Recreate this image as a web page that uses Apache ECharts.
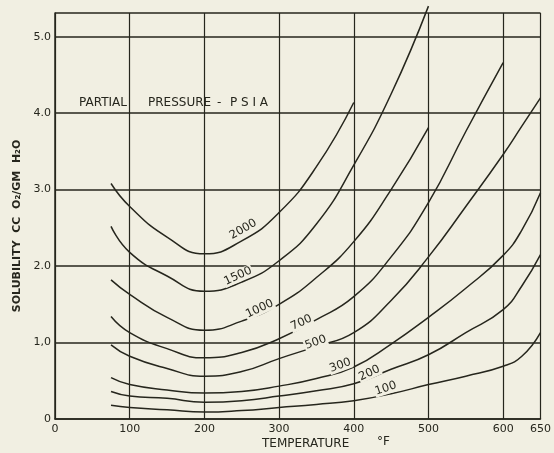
<!DOCTYPE html>
<html><head><meta charset="utf-8">
<script src="https://cdn.jsdelivr.net/npm/echarts@6/dist/echarts.min.js"></script>
<style>html,body{margin:0;padding:0;background:#f1efe2;}#c{width:554px;height:453px;}</style>
</head><body><div id="c"></div>
<script>
// Temperature (°F) sample points
const temps = [75, 100, 150, 200, 250, 300, 350, 400, 450, 500, 550, 600, 625, 650];
// Solubility (cc O2 / gm H2O) for each partial pressure (psia)
const p2000 = [3.08, 2.78, 2.38, 2.16, 2.33, 2.70, 3.30, 4.14, null, null, null, null, null, null];
const p1500 = [2.52, 2.18, 1.87, 1.67, 1.79, 2.07, 2.55, 3.32, 4.25, 5.40, null, null, null, null];
const p1000 = [1.82, 1.63, 1.33, 1.16, 1.28, 1.50, 1.85, 2.32, 3.00, 3.81, null, null, null, null];
const p700  = [1.34, 1.13, 0.92, 0.80, 0.87, 1.05, 1.30, 1.60, 2.12, 2.83, 3.76, 4.66, null, null];
const p500  = [0.97, 0.82, 0.66, 0.56, 0.62, 0.79, 0.95, 1.13, 1.55, 2.12, 2.78, 3.46, 3.83, 4.20];
const p300  = [0.54, 0.45, 0.38, 0.34, 0.36, 0.43, 0.53, 0.68, 0.98, 1.33, 1.71, 2.14, 2.47, 2.96];
const p200  = [0.36, 0.30, 0.27, 0.22, 0.24, 0.30, 0.37, 0.46, 0.65, 0.84, 1.13, 1.43, 1.74, 2.15];
const p100  = [0.18, 0.15, 0.12, 0.09, 0.11, 0.15, 0.19, 0.24, 0.33, 0.45, 0.56, 0.69, 0.82, 1.13];
const pressures = ['2000', '1500', '1000', '700', '500', '300', '200', '100'];
const curves = [p2000, p1500, p1000, p700, p500, p300, p200, p100];
// Tick labels
const xTickLabels = {0: '0', 100: '100', 200: '200', 300: '300', 400: '400', 500: '500', 600: '600', 650: '650'};
const yTickLabels = {0: '0', 1: '1,0', 2: '2.0', 3: '3.0', 4: '4.0', 5: '5.0'};

// label placement (data coordinates) and angle for each curve's pressure tag
const tagPlace = {
  '2000': {at: [252, 2.48], rot: 30},
  '1500': {at: [245, 1.87], rot: 25},
  '1000': {at: [274, 1.44], rot: 25},
  '700':  {at: [330, 1.26], rot: 25},
  '500':  {at: [349, 1.00], rot: 20},
  '300':  {at: [382, 0.70], rot: 20},
  '200':  {at: [421, 0.60], rot: 25},
  '100':  {at: [443, 0.40], rot: 18}
};

const BG = '#f1efe2';
const INK = '#26261d';
const chart = echarts.init(document.getElementById('c'), null, {renderer: 'canvas'});

const series = pressures.map((p, i) => ({
  type: 'line',
  name: p,
  data: temps.map((t, j) => curves[i][j] == null ? null : [t, curves[i][j]]).filter(d => d),
  smooth: 0.5,
  showSymbol: false,
  symbol: 'none',
  clip: false,
  lineStyle: {color: INK, width: 1.5},
  z: 3,
  markPoint: {
    symbol: 'rect', symbolSize: 0, silent: true,
    data: [{coord: tagPlace[p].at, value: p}],
    label: {
      show: true, position: 'inside', formatter: p,
      rotate: tagPlace[p].rot,
      color: INK, fontSize: 11.5, fontFamily: 'DejaVu Sans',
      backgroundColor: BG, padding: [0, 1]
    }
  }
}));

chart.setOption({
  backgroundColor: BG,
  animation: false,
  grid: {left: 55, right: 12, top: 13, bottom: 34},
  xAxis: {
    type: 'value', min: 0, max: 650, interval: 100,
    axisLine: {show: true, lineStyle: {color: INK, width: 1.5}},
    axisTick: {show: false},
    splitLine: {show: true, lineStyle: {color: INK, width: 1.2}},
    axisLabel: {
      color: INK, fontSize: 11, fontFamily: 'DejaVu Sans', margin: 5,
      formatter: v => xTickLabels[v] !== undefined ? xTickLabels[v] : ''
    }
  },
  yAxis: {
    type: 'value', min: 0, max: 5.31, interval: 1,
    axisLine: {show: true, lineStyle: {color: INK, width: 1.5}},
    axisTick: {show: false},
    splitLine: {show: true, lineStyle: {color: INK, width: 1.6}},
    axisLabel: {
      color: INK, fontSize: 11, fontFamily: 'DejaVu Sans', margin: 4,
      formatter: v => yTickLabels[v] !== undefined ? yTickLabels[v] : ''
    }
  },
  graphic: [
    {type: 'text', left: 79, top: 97, z: 10,
     style: {text: 'PARTIAL', fill: INK, font: '12px "DejaVu Sans"'}},
    {type: 'text', left: 148, top: 97, z: 10,
     style: {text: 'PRESSURE', fill: INK, font: '12px "DejaVu Sans"'}},
    {type: 'text', left: 217, top: 97, z: 10,
     style: {text: '-', fill: INK, font: '12px "DejaVu Sans"'}},
    {type: 'text', left: 230, top: 97, z: 10,
     style: {text: 'P S I A', fill: INK, font: '12px "DejaVu Sans"'}},
    {type: 'text', x: 17, y: 226, rotation: Math.PI / 2, z: 10,
     style: {text: 'SOLUBILITY  CC  O\u2082/GM  H\u2082O', fill: INK, font: 'bold 11px "DejaVu Sans"',
             align: 'center', verticalAlign: 'middle'}},
    {type: 'text', left: 262, top: 438, z: 10,
     style: {text: 'TEMPERATURE', fill: INK, font: '12px "DejaVu Sans"'}},
    {type: 'text', left: 377, top: 436, z: 10,
     style: {text: '\u00B0F', fill: INK, font: '12px "DejaVu Sans"'}}
  ],
  series: series
});
</script></body></html>
